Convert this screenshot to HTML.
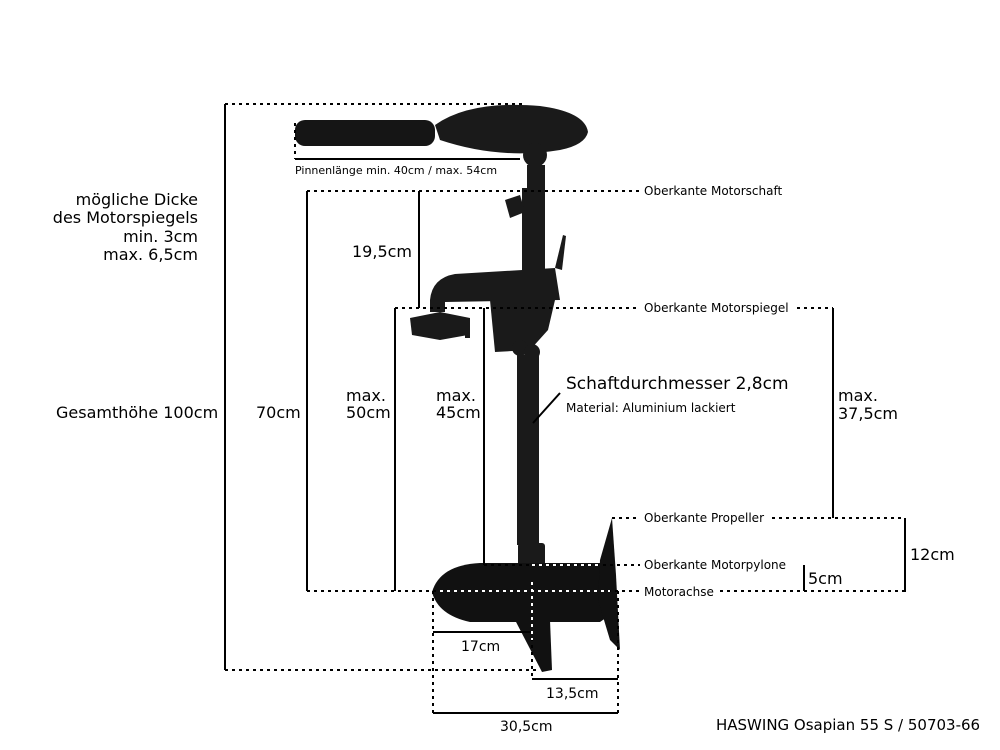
<!DOCTYPE html>
<html><head><meta charset="utf-8"><style>
body{margin:0;background:#fff;}
svg{display:block;}
text{font-family:"DejaVu Sans","Liberation Sans",sans-serif;fill:#000;}
</style></head><body>
<svg width="1000" height="750" viewBox="0 0 1000 750">
<g fill="#1a1a1a">
<!-- tiller -->
<rect x="295" y="120" width="140" height="26" rx="10" fill="#151515"/>
<path d="M435 125 Q470 100 540 106 Q585 112 588 132 Q585 145 560 150 Q500 160 440 140 Z"/>
<circle cx="535" cy="155" r="12"/>
<rect x="527" y="165" width="18" height="25"/>
<rect x="522" y="188" width="23" height="92"/>
<path d="M505 200 L520 195 L525 212 L510 218 Z"/>
<path d="M555 268 L563 235 L566 236 L562 270 Z"/>
<!-- bracket arm -->
<path d="M430 300 Q432 278 455 274 L555 268 L560 300 L445 302 L445 312 L430 312 Z"/>
<path d="M490 300 L555 300 L548 330 L530 350 L495 352 Z"/>
<path d="M410 318 L440 312 L470 318 L468 335 L440 340 L412 335 Z"/>
<rect x="465" y="318" width="5" height="20"/>
<circle cx="520" cy="348" r="8"/><circle cx="532" cy="352" r="8"/>
<!-- shaft -->
<rect x="517" y="355" width="22" height="190"/>
<rect x="518" y="543" width="27" height="25" rx="3"/>
<!-- motor -->
<path d="M432 592 Q440 565 480 563 L600 563 L610 570 L610 615 L600 622 L470 622 Q438 615 432 592 Z" fill="#111"/>
<path d="M515 620 L550 620 L552 670 L542 672 Z" fill="#111"/>
<path d="M600 560 L612 518 L616 575 L620 650 L610 640 L598 600 Z" fill="#111"/>
</g>
<g stroke="#000" stroke-width="2" fill="none">
<line x1="225" y1="104" x2="225" y2="670"/>
<line x1="307" y1="191" x2="307" y2="591"/>
<line x1="419" y1="191" x2="419" y2="308"/>
<line x1="395" y1="308" x2="395" y2="591"/>
<line x1="484" y1="308" x2="484" y2="565"/>
<line x1="833" y1="308" x2="833" y2="518"/>
<line x1="905" y1="518" x2="905" y2="592"/>
<line x1="804" y1="565" x2="804" y2="591"/>
<line x1="295" y1="159" x2="520" y2="159"/>
<line x1="433" y1="632" x2="533" y2="632"/>
<line x1="532" y1="679" x2="618" y2="679"/>
<line x1="433" y1="713" x2="618" y2="713"/>
<line x1="533" y1="423" x2="560" y2="393"/>
</g>
<g stroke="#000" stroke-width="2" stroke-dasharray="3,4" fill="none">
<line x1="225" y1="104" x2="525" y2="104"/>
<line x1="225" y1="670" x2="540" y2="670"/>
<line x1="295" y1="123" x2="295" y2="159"/>
<line x1="307" y1="191" x2="640" y2="191"/>
<line x1="395" y1="308" x2="640" y2="308"/>
<line x1="797" y1="308" x2="833" y2="308"/>
<line x1="484" y1="565" x2="640" y2="565"/>
<line x1="307" y1="591" x2="640" y2="591"/>
<line x1="720" y1="591" x2="905" y2="591"/>
<line x1="612" y1="518" x2="640" y2="518"/>
<line x1="772" y1="518" x2="905" y2="518"/>
<line x1="433" y1="591" x2="433" y2="713"/>
<line x1="618" y1="591" x2="618" y2="713"/>
<line x1="532" y1="582" x2="532" y2="679"/>
</g>
<g stroke="#fff" stroke-width="2" stroke-dasharray="3,4" fill="none">
<line x1="532" y1="565" x2="600" y2="565"/>
<line x1="440" y1="591" x2="610" y2="591"/>
<line x1="532" y1="582" x2="532" y2="640"/>
</g>
<g font-size="16">
<text x="198" y="205" text-anchor="end">mögliche Dicke</text>
<text x="198" y="223" text-anchor="end">des Motorspiegels</text>
<text x="198" y="242" text-anchor="end">min. 3cm</text>
<text x="198" y="260" text-anchor="end">max. 6,5cm</text>
<text x="56" y="418">Gesamthöhe 100cm</text>
<text x="256" y="418">70cm</text>
<text x="346" y="401">max.</text><text x="346" y="418">50cm</text>
<text x="436" y="401">max.</text><text x="436" y="418">45cm</text>
<text x="352" y="257">19,5cm</text>
<text x="838" y="401">max.</text><text x="838" y="419">37,5cm</text>
<text x="910" y="560">12cm</text>
<text x="808" y="584">5cm</text>
<text x="461" y="651" font-size="14">17cm</text>
<text x="546" y="698" font-size="14">13,5cm</text>
<text x="500" y="731" font-size="14">30,5cm</text>
<text x="716" y="730" font-size="15">HASWING Osapian 55 S / 50703-66</text>
<text x="566" y="389" font-size="17">Schaftdurchmesser 2,8cm</text>
<text x="566" y="412" font-size="12">Material: Aluminium lackiert</text>
</g>
<g font-size="12">
<text x="295" y="174" font-size="11">Pinnenlänge min. 40cm / max. 54cm</text>
<text x="644" y="195">Oberkante Motorschaft</text>
<text x="644" y="312">Oberkante Motorspiegel</text>
<text x="644" y="522">Oberkante Propeller</text>
<text x="644" y="569">Oberkante Motorpylone</text>
<text x="644" y="596">Motorachse</text>
</g>
</svg>
</body></html>
